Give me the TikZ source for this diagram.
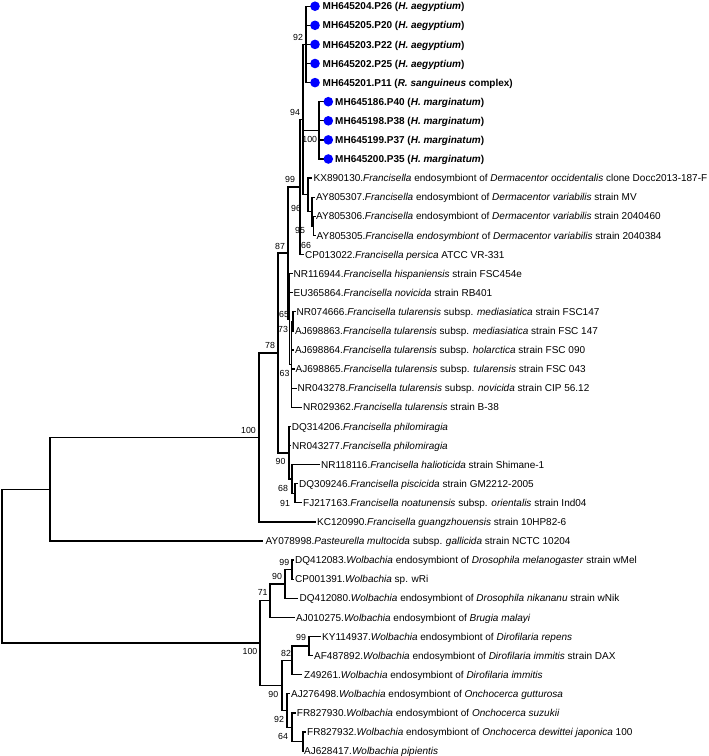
\documentclass[tikz,border=0pt]{standalone}
\usepackage{fontspec}
\setmainfont{Liberation Sans}
\newcommand\leafnode[5]{\coordinate (#1) at (#2,#4);\node[lf] (L#1) at (#3,#4) {#5};}
\newcommand\bsv[4]{\node[bs] (#1) at (#2,#3) {#4};}
\begin{document}
\begin{tikzpicture}[x=1pt,y=-1pt,
  br/.style={line width=1.35pt, line join=miter},
  lf/.style={anchor=west, inner sep=0pt, text height=7.2pt, text depth=0pt, font=\fontsize{10}{12}\selectfont},
  bs/.style={anchor=center, inner sep=0pt, text height=6.3pt, text depth=0pt, font=\fontsize{8.8}{10}\selectfont},
  dot/.style={circle, fill=blue, inner sep=0pt, minimum size=9.6pt}]
\useasboundingbox (0,0) rectangle (709,756);
% internal nodes
\coordinate (root) at (2,566);
\coordinate (nA) at (50,489.2);
\coordinate (nF) at (259,437.5);
\coordinate (n78) at (278,353);
\coordinate (n87) at (288,253);
\coordinate (n99) at (300,187);
\coordinate (n94) at (303,119.6);
\coordinate (n92) at (306,44.4);
\coordinate (n100m) at (319,130.3);
\coordinate (n96) at (308,194.8);
\coordinate (n95) at (312,211.5);
\coordinate (n66) at (313.5,225.9);
\coordinate (nT) at (289.5,319);
\coordinate (n63) at (291.5,364.4);
\coordinate (n73) at (293,321.4);
\coordinate (n90f) at (289,453);
\coordinate (n68) at (292,479);
\coordinate (n91) at (295,493.3);
\coordinate (nW) at (260,643.1);
\coordinate (n71) at (270,600.7);
\coordinate (n90w) at (285,584);
\coordinate (n99w) at (292,569.7);
\coordinate (nA2) at (282,685.5);
\coordinate (n82) at (292,660.4);
\coordinate (n99b) at (309,646);
\coordinate (nB) at (287,710.5);
\coordinate (nC) at (292,727.2);
\coordinate (nD) at (303,741.5);
% leaves
\leafnode{t1}{311}{322.5}{6.2}{\textbf{MH645204.P26 (\textit{H. aegyptium})}}
\leafnode{t2}{311}{322.5}{25.3}{\textbf{MH645205.P20 (\textit{H. aegyptium})}}
\leafnode{t3}{311}{322.5}{44.4}{\textbf{MH645203.P22 (\textit{H. aegyptium})}}
\leafnode{t4}{311}{322.5}{63.5}{\textbf{MH645202.P25 (\textit{H. aegyptium})}}
\leafnode{t5}{311}{322.5}{82.6}{\textbf{MH645201.P11 (\textit{R. sanguineus} complex)}}
\leafnode{t6}{324}{335}{101.7}{\textbf{MH645186.P40 (\textit{H. marginatum})}}
\leafnode{t7}{324}{335}{120.8}{\textbf{MH645198.P38 (\textit{H. marginatum})}}
\leafnode{t8}{324}{335}{139.9}{\textbf{MH645199.P37 (\textit{H. marginatum})}}
\leafnode{t9}{324}{335}{159.0}{\textbf{MH645200.P35 (\textit{H. marginatum})}}
\leafnode{t10}{312}{313.5}{178.1}{KX890130.\textit{Francisella} endosymbiont of \textit{Dermacentor occidentalis} clone Docc2013-187-F}
\leafnode{t11}{315}{316}{197.2}{AY805307.\textit{Francisella} endosymbiont of \textit{Dermacentor variabilis} strain MV}
\leafnode{t12}{315.5}{316}{216.3}{AY805306.\textit{Francisella} endosymbiont of \textit{Dermacentor variabilis} strain 2040460}
\leafnode{t13}{315.5}{316.5}{235.4}{AY805305.\textit{Francisella endosymbiont} of \textit{Dermacentor variabilis} strain 2040384}
\leafnode{t14}{304}{305}{254.5}{CP013022.\textit{Francisella persica} ATCC VR-331}
\leafnode{t15}{293}{293.5}{273.6}{NR116944.\textit{Francisella hispaniensis} strain FSC454e}
\leafnode{t16}{293}{293.5}{292.7}{EU365864.\textit{Francisella novicida} strain RB401}
\leafnode{t17}{295.5}{296.5}{311.8}{NR074666.\textit{Francisella tularensis} subsp. \textit{mediasiatica} strain FSC147}
\leafnode{t18}{294}{295}{330.9}{AJ698863.\textit{Francisella tularensis} subsp. \textit{mediasiatica} strain FSC 147}
\leafnode{t19}{294}{295}{350.0}{AJ698864.\textit{Francisella tularensis} subsp. \textit{holarctica} strain FSC 090}
\leafnode{t20}{294.5}{295.5}{369.1}{AJ698865.\textit{Francisella tularensis} subsp. \textit{tularensis} strain FSC 043}
\leafnode{t21}{296.5}{297.5}{388.2}{NR043278.\textit{Francisella tularensis} subsp. \textit{novicida} strain CIP 56.12}
\leafnode{t22}{302}{303}{407.3}{NR029362.\textit{Francisella tularensis} strain B-38}
\leafnode{t23}{291}{291.7}{426.4}{DQ314206.\textit{Francisella philomiragia}}
\leafnode{t24}{291}{292}{445.5}{NR043277.\textit{Francisella philomiragia}}
\leafnode{t25}{320}{321}{464.6}{NR118116.\textit{Francisella halioticida} strain Shimane-1}
\leafnode{t26}{298}{299}{483.7}{DQ309246.\textit{Francisella piscicida} strain GM2212-2005}
\leafnode{t27}{302}{303}{502.8}{FJ217163.\textit{Francisella noatunensis} subsp. \textit{orientalis} strain Ind04}
\leafnode{t28}{316}{317}{521.9}{KC120990.\textit{Francisella guangzhouensis} strain 10HP82-6}
\leafnode{t29}{263}{265.5}{541.0}{AY078998.\textit{Pasteurella multocida} subsp. \textit{gallicida} strain NCTC 10204}
\leafnode{t30}{294}{295}{560.1}{DQ412083.\textit{Wolbachia} endosymbiont of \textit{Drosophila melanogaster} strain wMel}
\leafnode{t31}{294}{295}{579.2}{CP001391.\textit{Wolbachia} sp. wRi}
\leafnode{t32}{298}{299.5}{598.3}{DQ412080.\textit{Wolbachia} endosymbiont of \textit{Drosophila nikananu} strain wNik}
\leafnode{t33}{295}{296}{617.4}{AJ010275.\textit{Wolbachia} endosymbiont of \textit{Brugia malayi}}
\leafnode{t34}{321}{322}{636.5}{KY114937.\textit{Wolbachia} endosymbiont of \textit{Dirofilaria repens}}
\leafnode{t35}{313}{314}{655.6}{AF487892.\textit{Wolbachia} endosymbiont of \textit{Dirofilaria immitis} strain DAX}
\leafnode{t36}{302}{304}{674.7}{Z49261.\textit{Wolbachia} endosymbiont of \textit{Dirofilaria immitis}}
\leafnode{t37}{290}{291}{693.8}{AJ276498.\textit{Wolbachia} endosymbiont of \textit{Onchocerca gutturosa}}
\leafnode{t38}{295.5}{296.7}{712.9}{FR827930.\textit{Wolbachia} endosymbiont of \textit{Onchocerca suzukii}}
\leafnode{t39}{306}{307}{732.0}{FR827932.\textit{Wolbachia} endosymbiont of \textit{Onchocerca dewittei japonica} 100}
\leafnode{t40}{303.5}{304}{751.1}{AJ628417.\textit{Wolbachia pipientis}}
% branches
\draw[br] (root) |- (nA); \draw[br] (root) |- (nW);
\draw[br] (nA) |- (nF); \draw[br] (nA) |- (t29);
\draw[br] (nF) |- (n78); \draw[br] (nF) |- (t28);
\draw[br] (n78) |- (n87); \draw[br] (n78) |- (n90f);
\draw[br] (n87) |- (n99); \draw[br] (n87) |- (nT);
\draw[br] (n99) |- (n94); \draw[br] (n99) |- (t14);
\foreach \c in {n92,n100m,n96} \draw[br] (n94) |- (\c);
\foreach \c in {t1,t2,t3,t4,t5} \draw[br] (n92) |- (\c);
\foreach \c in {t6,t7,t8,t9} \draw[br] (n100m) |- (\c);
\draw[br] (n96) |- (t10); \draw[br] (n96) |- (n95);
\draw[br] (n95) |- (t11); \draw[br] (n95) |- (n66);
\draw[br] (n66) |- (t12); \draw[br] (n66) |- (t13);
\foreach \c in {t15,t16,n63} \draw[br] (nT) |- (\c);
\foreach \c in {n73,t19,t20,t21,t22} \draw[br] (n63) |- (\c);
\draw[br] (n73) |- (t17); \draw[br] (n73) |- (t18);
\foreach \c in {t23,t24,n68} \draw[br] (n90f) |- (\c);
\draw[br] (n68) |- (t25); \draw[br] (n68) |- (n91);
\draw[br] (n91) |- (t26); \draw[br] (n91) |- (t27);
\draw[br] (nW) |- (n71); \draw[br] (nW) |- (nA2);
\draw[br] (n71) |- (n90w); \draw[br] (n71) |- (t33);
\draw[br] (n90w) |- (n99w); \draw[br] (n90w) |- (t32);
\draw[br] (n99w) |- (t30); \draw[br] (n99w) |- (t31);
\draw[br] (nA2) |- (n82); \draw[br] (nA2) |- (nB);
\draw[br] (n82) |- (n99b); \draw[br] (n82) |- (t36);
\draw[br] (n99b) |- (t34); \draw[br] (n99b) |- (t35);
\draw[br] (nB) |- (t37); \draw[br] (nB) |- (nC);
\draw[br] (nC) |- (t38); \draw[br] (nC) |- (nD);
\draw[br] (nD) |- (t39); \draw[br] (nD) |- (t40);
% blue dots
\foreach \c in {t1,t2,t3,t4,t5} \node[dot] (d\c) at ([xshift=4pt]\c) {};
\foreach \c in {t6,t7,t8,t9} \node[dot] (d\c) at ([xshift=4.3pt]\c) {};
% bootstrap values
\bsv{b92}{298}{37}{92}
\bsv{b94}{295}{112}{94}
\bsv{b100m}{309.7}{139.3}{100}
\bsv{b99}{290}{179.5}{99}
\bsv{b96}{296}{208}{96}
\bsv{b95}{300}{230}{95}
\bsv{b66}{306}{245}{66}
\bsv{b87}{280}{246}{87}
\bsv{b78}{270}{345.5}{78}
\bsv{b65}{284}{314}{65}
\bsv{b73}{283}{329}{73}
\bsv{b63}{284.5}{373}{63}
\bsv{b100f}{248.5}{430}{100}
\bsv{b90f}{280.5}{461.5}{90}
\bsv{b68}{283}{488}{68}
\bsv{b91}{285}{503}{91}
\bsv{b99w}{284.3}{562.7}{99}
\bsv{b90w}{277}{576}{90}
\bsv{b71}{262.7}{592.3}{71}
\bsv{b100w}{250}{651.7}{100}
\bsv{b99b}{301}{637}{99}
\bsv{b82}{286}{653}{82}
\bsv{b90a}{273.3}{694}{90}
\bsv{b92b}{279}{719}{92}
\bsv{b64}{283}{736}{64}
\end{tikzpicture}
\end{document}
